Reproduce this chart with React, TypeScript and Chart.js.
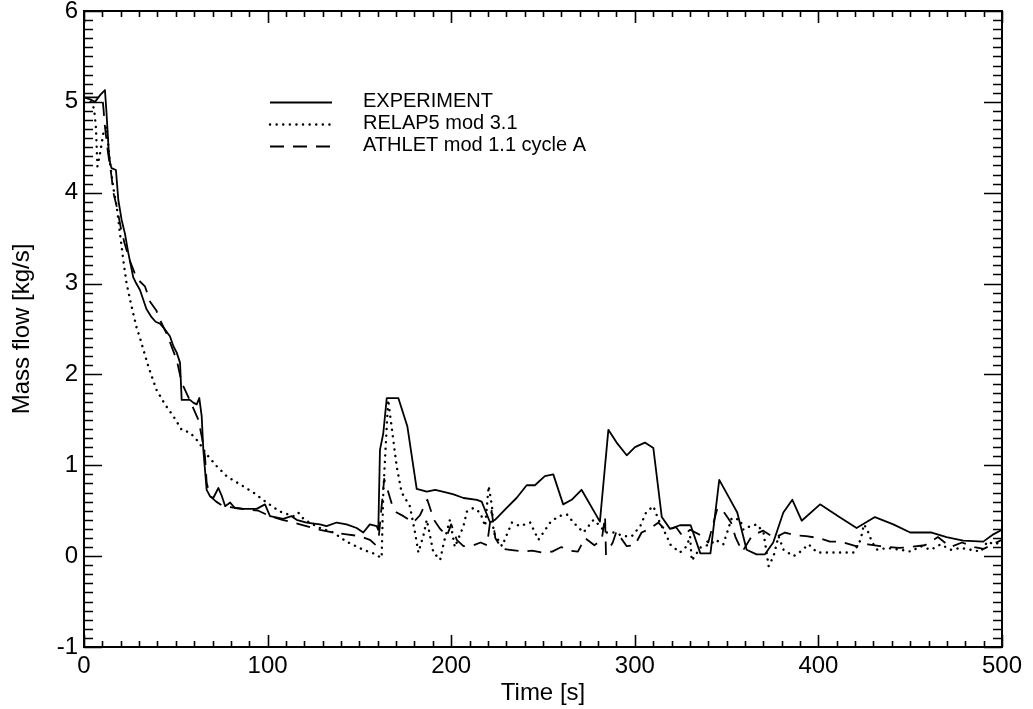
import React, { useEffect, useRef } from "react";
import { Chart, registerables } from "chart.js";

Chart.register(...registerables);

// ---- Data ----
const expT = [0, 3, 6, 9, 11.4, 12.2, 13.5, 14.2, 15, 17.4, 18.7, 20.5, 22.3, 24.1, 26.8, 28.5, 30.5, 34, 36.8, 39, 41.4, 43.5, 46.8, 48.7, 50.5, 52.3, 53.2, 57.7, 59.5, 61.4, 62.8, 64.1, 65, 66.8, 68.6, 70.4, 73.2, 75.1, 76.9, 79.6, 82.2, 86.8, 94, 98.6, 101.3, 108.5, 113, 115.8, 121.2, 128.5, 132.1, 137.6, 143, 148.5, 152.1, 155.7, 159.4, 160.3, 161.2, 163, 164.9, 171.2, 176.1, 181.2, 186.7, 191.3, 197.6, 201.3, 206.7, 214, 216.6, 221.2, 223.9, 230.2, 235.6, 241.1, 245.6, 251, 255.6, 261, 265.6, 271, 281, 285.6, 290.1, 295.6, 300.1, 305.5, 310.1, 314.7, 319.2, 324.6, 330.4, 335.7, 341.2, 346, 350.9, 355.8, 360.9, 366.3, 370.9, 375.4, 380.9, 385.8, 390.9, 400.9, 410.8, 420.8, 430.8, 440.8, 450, 461.7, 469.8, 478.9, 489.8, 495.3, 500];
const expV = [5.05, 5.03, 5.0, 5.08, 5.13, 4.9, 4.45, 4.33, 4.27, 4.25, 3.92, 3.7, 3.55, 3.34, 3.07, 3.0, 2.93, 2.72, 2.63, 2.58, 2.56, 2.51, 2.42, 2.31, 2.24, 2.13, 1.72, 1.72, 1.69, 1.67, 1.74, 1.54, 1.17, 0.73, 0.66, 0.64, 0.75, 0.66, 0.55, 0.59, 0.53, 0.52, 0.52, 0.57, 0.44, 0.41, 0.44, 0.4, 0.37, 0.35, 0.33, 0.37, 0.35, 0.31, 0.26, 0.35, 0.33, 0.29, 1.17, 1.35, 1.74, 1.74, 1.43, 0.74, 0.71, 0.73, 0.7, 0.68, 0.64, 0.62, 0.6, 0.37, 0.4, 0.53, 0.64, 0.78, 0.78, 0.88, 0.9, 0.57, 0.62, 0.73, 0.38, 1.39, 1.25, 1.11, 1.2, 1.25, 1.19, 0.43, 0.3, 0.34, 0.34, 0.03, 0.03, 0.84, 0.66, 0.48, 0.07, 0.02, 0.02, 0.15, 0.48, 0.62, 0.39, 0.57, 0.44, 0.31, 0.43, 0.35, 0.26, 0.26, 0.21, 0.17, 0.16, 0.24, 0.29];

const relapT = [0, 4, 5.5, 6.5, 7, 7.3, 8.7, 10.5, 12.3, 14, 16, 17.8, 19.6, 21.4, 23.2, 25.9, 28.6, 30.5, 35, 39.5, 44.1, 48.7, 53.2, 57.7, 62.3, 66.8, 72.3, 77.7, 85, 92.3, 99.5, 106.8, 114, 116.7, 120, 128.5, 135.8, 143, 152.1, 157.6, 162.1, 163, 164.9, 165.7, 167.5, 170.3, 173, 177.5, 180.3, 182.1, 184.8, 186.7, 190.3, 194, 196, 199.3, 202, 206.7, 208.5, 212.1, 215.8, 218.5, 220.4, 222.2, 223.1, 227.7, 233.1, 237.5, 243, 247.5, 253.9, 258.4, 263, 266.6, 272, 277.5, 281.2, 283.9, 288.4, 293.9, 298.4, 303, 306.1, 310.1, 312.9, 317.4, 319.2, 324.6, 328.3, 330.1, 331, 336, 341.2, 344, 348.2, 352.8, 357.4, 359.2, 362.8, 366.5, 370.1, 372.9, 375.6, 378.3, 381, 386.5, 390.2, 394.7, 399.3, 408.4, 419.3, 423, 424.8, 426.6, 429.3, 432.1, 437.5, 444.9, 450.3, 455.7, 461.2, 466.6, 472.1, 477.5, 483, 488.5, 492.1, 495.7, 500];
const relapV = [5.0, 5.0, 4.92, 4.72, 4.45, 4.29, 4.43, 4.65, 4.73, 4.35, 4.05, 3.85, 3.55, 3.26, 3.0, 2.75, 2.52, 2.4, 2.09, 1.83, 1.67, 1.54, 1.39, 1.36, 1.26, 1.12, 0.99, 0.88, 0.79, 0.7, 0.59, 0.49, 0.44, 0.48, 0.4, 0.31, 0.26, 0.16, 0.07, 0.03, -0.02, 0.7, 1.43, 1.72, 1.43, 0.99, 0.7, 0.55, 0.26, 0.04, 0.22, 0.4, 0.04, -0.04, 0.15, 0.4, 0.1, 0.33, 0.49, 0.53, 0.48, 0.33, 0.77, 0.55, 0.26, 0.11, 0.37, 0.33, 0.37, 0.18, 0.37, 0.44, 0.46, 0.37, 0.26, 0.4, 0.33, 0.26, 0.26, 0.22, 0.22, 0.33, 0.48, 0.55, 0.4, 0.22, 0.13, 0.04, 0.11, 0.22, -0.05, 0.1, 0.13, 0.18, 0.13, 0.42, 0.4, 0.29, 0.33, 0.35, 0.26, -0.11, 0.0, 0.22, 0.07, 0.0, 0.05, 0.13, 0.04, 0.04, 0.04, 0.18, 0.35, 0.29, 0.15, 0.07, 0.09, 0.07, 0.05, 0.11, 0.07, 0.13, 0.07, 0.09, 0.07, 0.05, 0.16, 0.13, 0.16];

const athletT = [0, 10, 10.5, 11.4, 13, 15, 16, 17.8, 20, 22, 25, 27.5, 29.6, 33.2, 36, 39.5, 41.4, 45, 50.5, 53.2, 58, 62.3, 64.1, 65.9, 66.8, 68.6, 72, 75.9, 83.1, 90, 95, 101.3, 108, 114, 117.6, 128.5, 135.8, 143, 150.3, 155.7, 158.5, 160.5, 163.5, 165.5, 168, 170.3, 174, 179.3, 183, 187, 190.6, 194, 197.6, 200, 203, 206.7, 212, 216, 219.5, 222, 224, 227.7, 232, 239.3, 244, 249.3, 255, 260, 265, 269, 272.9, 278, 282, 283.8, 284.3, 288, 290, 295.6, 300, 303.7, 308, 312.9, 317, 322.4, 326, 330.1, 335, 340, 345, 348, 352.4, 355, 358.6, 364, 370, 376, 381.8, 387, 393.3, 400, 406.3, 412, 420.4, 427, 433.6, 443.9, 450, 458, 465.1, 472, 478.2, 485, 490, 495, 500];
const athletV = [5.05, 5.05, 4.95, 4.73, 4.45, 4.18, 4.0, 3.85, 3.62, 3.45, 3.25, 3.12, 3.04, 2.97, 2.8, 2.7, 2.6, 2.45, 2.16, 1.91, 1.7, 1.5, 1.32, 1.1, 0.81, 0.66, 0.6, 0.55, 0.53, 0.51, 0.5, 0.44, 0.4, 0.37, 0.35, 0.29, 0.26, 0.24, 0.22, 0.18, 0.13, 0.2, 0.85, 0.72, 0.55, 0.48, 0.44, 0.37, 0.45, 0.62, 0.4, 0.3, 0.22, 0.35, 0.18, 0.11, 0.12, 0.15, 0.12, 0.5, 0.2, 0.08, 0.07, 0.05, 0.06, 0.04, 0.05, 0.1, 0.06, 0.05, 0.2, 0.12, 0.18, 0.44, 0.02, 0.15, 0.27, 0.11, 0.12, 0.26, 0.3, 0.37, 0.28, 0.32, 0.22, 0.29, 0.24, 0.15, 0.53, 0.5, 0.37, 0.2, 0.05, 0.23, 0.28, 0.2, 0.26, 0.23, 0.22, 0.2, 0.16, 0.16, 0.11, 0.13, 0.11, 0.09, 0.1, 0.12, 0.21, 0.1, 0.15, 0.1, 0.08, 0.13, 0.18];

const seriesLabels = ["EXPERIMENT", "RELAP5 mod 3.1", "ATHLET mod 1.1 cycle A"];
const xTickValues = [0, 100, 200, 300, 400, 500];
const yTickValues = [-1, 0, 1, 2, 3, 4, 5, 6];

const FONT = "'Liberation Sans', Arial, Helvetica, sans-serif";

const toPoints = (t: number[], v: number[]) => t.map((x, i) => ({ x, y: v[i] }));

const styles = [
  { borderWidth: 1.8, borderDash: [] as number[], borderCapStyle: "butt" },
  { borderWidth: 2.4, borderDash: [0.1, 6.5], borderCapStyle: "round" },
  { borderWidth: 1.8, borderDash: [14, 9], borderCapStyle: "butt" },
];

const framePlugin = {
  id: "framePlugin",
  afterDatasetsDraw(chart: any) {
    const { ctx, chartArea, scales } = chart;
    const { left, right, top, bottom } = chartArea;
    const xs = scales.x;
    const ys = scales.y;
    ctx.save();
    ctx.strokeStyle = "#000";
    ctx.setLineDash([]);
    ctx.lineWidth = 2;
    ctx.strokeRect(left, top, right - left, bottom - top);
    ctx.lineWidth = 1.6;
    ctx.beginPath();
    // x ticks every 10
    for (let i = 0; i <= 50; i++) {
      const px = Math.round(xs.getPixelForValue(i * 10)) + 0.5;
      const major = i % 10 === 0;
      const len = major ? 12 : 6;
      ctx.moveTo(px, bottom);
      ctx.lineTo(px, bottom - len);
      ctx.moveTo(px, top);
      ctx.lineTo(px, top + len);
    }
    // y ticks every 0.1
    for (let i = -10; i <= 60; i++) {
      const py = Math.round(ys.getPixelForValue(i / 10)) + 0.5;
      const major = i % 10 === 0;
      const len = major ? 18 : 9;
      ctx.moveTo(left, py);
      ctx.lineTo(left + len, py);
      ctx.moveTo(right, py);
      ctx.lineTo(right - len, py);
    }
    ctx.stroke();

    // legend
    const lx0 = 270;
    const lx1 = 332;
    const tx = 363;
    const rows = [101, 123, 145];
    ctx.font = `20px ${FONT}`;
    ctx.fillStyle = "#000";
    ctx.textBaseline = "middle";
    ctx.textAlign = "left";
    seriesLabels.forEach((lab, i) => {
      const st = styles[i];
      ctx.beginPath();
      ctx.lineWidth = st.borderWidth;
      ctx.setLineDash(st.borderDash);
      ctx.lineCap = st.borderCapStyle as CanvasLineCap;
      ctx.moveTo(lx0, rows[i] + 1.5);
      ctx.lineTo(lx1, rows[i] + 1.5);
      ctx.stroke();
      ctx.setLineDash([]);
      ctx.fillText(lab, tx, rows[i]);
    });
    ctx.restore();
  },
};

export default function App() {
  const ref = useRef<HTMLCanvasElement | null>(null);

  useEffect(() => {
    document.body.style.margin = "0";
    const canvas = ref.current;
    if (!canvas) return;
    const datasets = [
      toPoints(expT, expV),
      toPoints(relapT, relapV),
      toPoints(athletT, athletV),
    ].map((data, i) => ({
      label: seriesLabels[i],
      data,
      borderColor: "#000",
      backgroundColor: "#000",
      borderWidth: styles[i].borderWidth,
      borderDash: styles[i].borderDash,
      borderCapStyle: styles[i].borderCapStyle,
      borderJoinStyle: "round",
      pointRadius: 0,
      tension: 0,
      fill: false,
    }));

    const chart = new Chart(canvas, {
      type: "line",
      data: { datasets } as any,
      options: {
        responsive: false,
        animation: false,
        layout: { padding: { top: 11, right: 31, left: 0, bottom: 0 } },
        plugins: { legend: { display: false }, tooltip: { enabled: false } },
        scales: {
          x: {
            type: "linear",
            min: 0,
            max: 500,
            afterBuildTicks: (s: any) => {
              s.ticks = xTickValues.map((v) => ({ value: v }));
            },
            afterFit: (s: any) => {
              s.height = 62;
              s.paddingLeft = 0;
              s.paddingRight = 0;
            },
            grid: { display: false, drawTicks: false },
            border: { display: false },
            ticks: {
              color: "#000",
              font: { family: FONT, size: 24 },
              padding: 5,
              maxRotation: 0,
              autoSkip: false,
            },
            title: {
              display: true,
              text: "Time [s]",
              color: "#000",
              font: { family: FONT, size: 24 },
              padding: { top: 0, bottom: 1 },
            },
          },
          y: {
            type: "linear",
            min: -1,
            max: 6,
            afterBuildTicks: (s: any) => {
              s.ticks = yTickValues.map((v) => ({ value: v }));
            },
            afterFit: (s: any) => {
              s.width = 84;
              s.paddingTop = 0;
              s.paddingBottom = 0;
            },
            grid: { display: false, drawTicks: false },
            border: { display: false },
            ticks: {
              color: "#000",
              font: { family: FONT, size: 24 },
              padding: 6,
              autoSkip: false,
            },
            title: {
              display: true,
              text: "Mass flow [kg/s]",
              color: "#000",
              font: { family: FONT, size: 24 },
              padding: { top: 8, bottom: 0 },
            },
          },
        },
      } as any,
      plugins: [framePlugin],
    });
    return () => chart.destroy();
  }, []);

  return (
    <div style={{ position: "fixed", left: 0, top: 0, width: 1033, height: 709, background: "#fff" }}>
      <canvas ref={ref} width={1033} height={709} style={{ display: "block" }} />
    </div>
  );
}
